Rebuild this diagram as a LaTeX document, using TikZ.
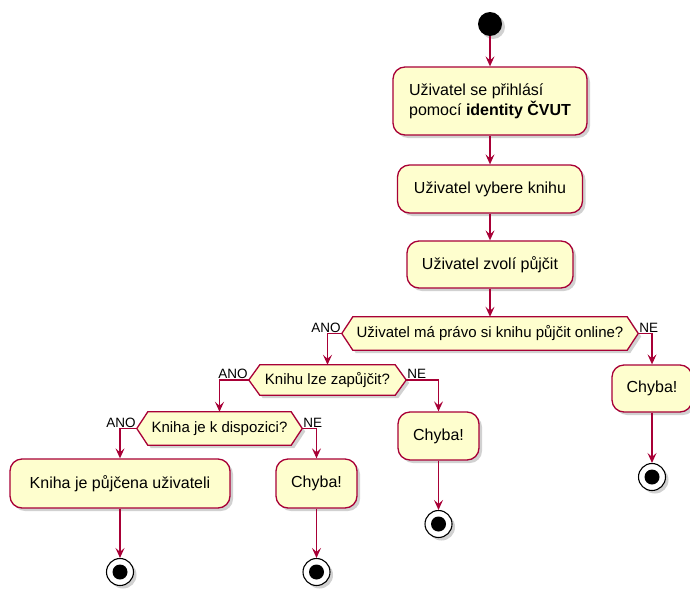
\documentclass[tikz,border=0pt]{standalone}
\usepackage{fontspec}
\setmainfont{Liberation Sans}
\usetikzlibrary{arrows.meta,shadows,backgrounds}
\definecolor{pfill}{HTML}{FEFECE}
\definecolor{pline}{HTML}{A80036}
\newcommand\mkhex[1]{%
  \draw[decbox] (#1.west) -- ([xshift=11pt]#1.north west) -- ([xshift=-11pt]#1.north east)
    -- (#1.east) -- ([xshift=-11pt]#1.south east) -- ([xshift=11pt]#1.south west) -- cycle;}
\begin{document}
\begin{tikzpicture}[x=1pt,y=-1pt,
  shad/.style={drop shadow={shadow xshift=3pt,shadow yshift=-3pt,opacity=0.3,fill=black!60}},
  act/.style={rectangle, rounded corners=12pt, draw=pline, fill=pfill, line width=1.3pt,
    font=\fontsize{16}{20}\selectfont, align=left, inner sep=0pt, shad},
  dec/.style={rectangle, inner sep=0pt, font=\fontsize{15}{18}\selectfont},
  decbox/.style={draw=pline, fill=pfill, line width=1.3pt, line join=miter, shad},
  lbl/.style={font=\fontsize{13.5}{16}\selectfont, inner sep=1pt},
  startc/.style={circle, fill=black, minimum size=24pt, inner sep=0pt, shad},
  endc/.style={circle, draw=black, line width=1.1pt, fill=white, minimum size=27pt, inner sep=0pt, shad,
    path picture={\fill[black] (path picture bounding box.center) circle (7.5pt);}},
  flow/.style={draw=pline, line width=1.3pt, -{Stealth[length=10pt,width=9pt,inset=4pt]}}
]
\useasboundingbox (0,0) rectangle (690,589);

\node[startc] (s) at (490,24) {};
\node[act, minimum width=194pt, minimum height=68pt] (a1) at (490,101) {Uživatel se přihlásí\\pomocí \textbf{identity ČVUT}};
\node[act, minimum width=185pt, minimum height=48pt] (a2) at (490,189) {Uživatel vybere knihu};
\node[act, minimum width=166pt, minimum height=47pt] (a3) at (490,264.5) {Uživatel zvolí půjčit};

\node[dec, minimum width=296pt, minimum height=33pt] (d1) at (490,333.5) {Uživatel má právo si knihu půjčit online?};
\node[dec, minimum width=157pt, minimum height=30pt] (d2) at (327.5,380) {Knihu lze zapůjčit?};
\node[dec, minimum width=165pt, minimum height=33pt] (d3) at (219.5,428.5) {Kniha je k dispozici?};
\begin{scope}[on background layer]
\mkhex{d1}
\mkhex{d2}
\mkhex{d3}
\end{scope}

\node[act, minimum width=220pt, minimum height=49pt] (a4) at (120,483.5) {Kniha je půjčena uživateli};
\node[act, minimum width=81pt, minimum height=49pt] (c1) at (316.5,483.5) {Chyba!};
\node[act, minimum width=81pt, minimum height=48pt] (c2) at (438.5,436) {Chyba!};
\node[act, minimum width=80pt, minimum height=47pt] (c3) at (652,388.5) {Chyba!};

\node[endc] (e1) at (120,572) {};
\node[endc] (e2) at (316.5,572) {};
\node[endc] (e3) at (438.5,524) {};
\node[endc] (e4) at (652,477) {};

\draw[flow] (s) -- (a1);
\draw[flow] (a1) -- (a2);
\draw[flow] (a2) -- (a3);
\draw[flow] (a3) -- (d1);
\draw[flow] (d1.west) -| (d2.north);
\draw[flow] (d1.east) -| (c3.north);
\draw[flow] (d2.west) -| (d3.north);
\draw[flow] (d2.east) -| (c2.north);
\draw[flow] (d3.west) -| (a4.north);
\draw[flow] (d3.east) -| (c1.north);
\draw[flow] (a4) -- (e1);
\draw[flow] (c1) -- (e2);
\draw[flow] (c2) -- (e3);
\draw[flow] (c3) -- (e4);

\node[lbl, anchor=south east] (l1) at (d1.west) {ANO};
\node[lbl, anchor=south west] (l2) at (d1.east) {NE};
\node[lbl, anchor=south east] (l3) at (d2.west) {ANO};
\node[lbl, anchor=south west] (l4) at (d2.east) {NE};
\node[lbl, anchor=south east] (l5) at (d3.west) {ANO};
\node[lbl, anchor=south west] (l6) at (d3.east) {NE};
\end{tikzpicture}
\end{document}
